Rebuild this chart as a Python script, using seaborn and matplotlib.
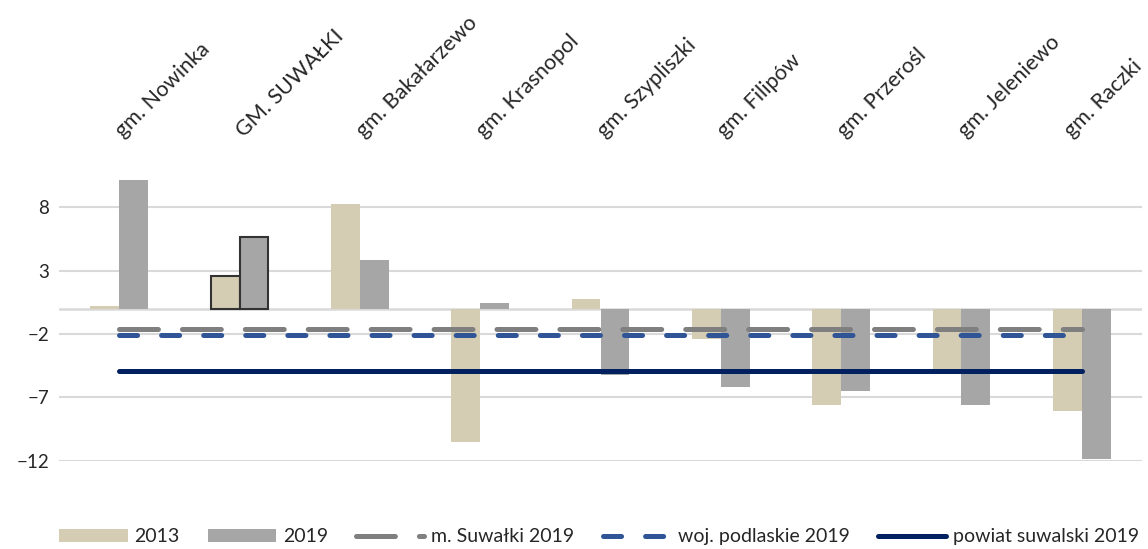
import matplotlib
matplotlib.use("Agg")
import matplotlib.pyplot as plt
import matplotlib.transforms as mtransforms
import numpy as np
import pandas as pd
import seaborn as sns

# data
categories = ["gm. Nowinka", "GM. SUWAŁKI", "gm. Bakałarzewo", "gm. Krasnopol",
              "gm. Szypliszki", "gm. Filipów", "gm. Przerośl", "gm. Jeleniewo", "gm. Raczki"]
values_2013 = [0.25, 2.6, 8.3, -10.5, 0.8, -2.4, -7.6, -4.9, -8.1]
values_2019 = [10.2, 5.7, 3.85, 0.45, -5.2, -6.2, -6.5, -7.6, -11.9]
m_suwalki_2019 = [-1.6] * len(categories)
woj_podlaskie_2019 = [-2.1] * len(categories)
powiat_suwalski_2019 = [-4.9] * len(categories)
yticks = [8, 3, -2, -7, -12]

sns.set_style("white")
plt.rcParams["font.family"] = ["Lato", "DejaVu Sans"]
plt.rcParams["lines.scale_dashes"] = False

df = pd.DataFrame({
    "gmina": categories * 2,
    "rok": ["2013"] * len(categories) + ["2019"] * len(categories),
    "wartosc": values_2013 + values_2019,
})

fig = plt.figure(figsize=(11.48, 5.49), dpi=100)
ax = fig.add_axes([59 / 1148, 0.1608, (1142 - 59) / 1148, 0.703 - 0.1608])

sns.barplot(data=df, x="gmina", y="wartosc", hue="rok", order=categories,
            palette={"2013": "#D9CFAE", "2019": "#A6A6A6"}, width=0.48,
            linewidth=0, legend=False, ax=ax, zorder=2)

# highlight the city bars with a dark outline
idx = categories.index("GM. SUWAŁKI")
for cont in ax.containers:
    cont[idx].set_edgecolor("#333333")
    cont[idx].set_linewidth(1.5)

x = np.arange(len(categories))
l1, = ax.plot(x, m_suwalki_2019, color="#7F7F7F", lw=3.6, zorder=4,
              dash_capstyle="round", solid_capstyle="round")
l1.set_dashes([28, 17.3])
l2, = ax.plot(x, woj_podlaskie_2019, color="#2F5597", lw=3.6, zorder=4,
              dash_capstyle="round", solid_capstyle="round")
l2.set_dashes([13, 17.3])
l3, = ax.plot(x, powiat_suwalski_2019, color="#002060", lw=3.6, zorder=4,
              solid_capstyle="round")

ax.axhline(0, color="#D9D9D9", lw=1.8, zorder=1)
ax.set_xlim(-0.5, len(categories) - 0.5)
ax.set_ylim(-12, 11.5)
ax.set_yticks(yticks)
ax.yaxis.grid(True, color="#D9D9D9", lw=1.5)
ax.set_axisbelow(True)
for s in ax.spines.values():
    s.set_visible(False)

ax.set_xlabel("")
ax.set_ylabel("")
ax.xaxis.tick_top()
ax.set_xticks(x)
ax.set_xticklabels(categories, rotation=45, ha="left", va="center",
                   rotation_mode="anchor", fontsize=15.5)
ax.tick_params(axis="x", length=0, pad=21)
ax.tick_params(axis="y", length=0, pad=7, labelsize=13.5)

# last label is pushed left so it stays inside the figure
last = ax.xaxis.get_major_ticks()[-1].label2
last.set_transform(last.get_transform() +
                   mtransforms.ScaledTranslation(-14 / 100, 0, fig.dpi_scale_trans))

handles = [ax.containers[0][0], ax.containers[1][0], l1, l2, l3]
labels = ["2013", "2019", "m. Suwałki 2019", "woj. podlaskie 2019", "powiat suwalski 2019"]
fig.legend(handles, labels, loc="center", bbox_to_anchor=(0.522, 0.022), ncol=5,
           frameon=False, fontsize=14, handlelength=3.5, handleheight=0.6,
           handletextpad=0.36, columnspacing=1.45)

fig.savefig("out.png", dpi=100)
